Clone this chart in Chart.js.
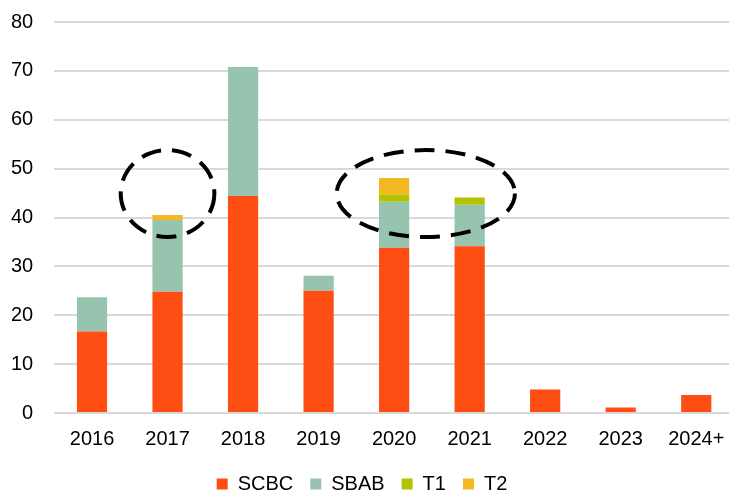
<!DOCTYPE html>
<html>
<head>
<meta charset="utf-8">
<script src="https://cdn.jsdelivr.net/npm/chart.js@4"></script>
<style>
  html, body { margin: 0; padding: 0; background: #fff; overflow: hidden; }
  body { width: 729px; height: 494px; position: relative; }
  #wrap { position: absolute; left: -4px; top: -11px; width: 738px; height: 506px; }
</style>
</head>
<body>
<div id="wrap"><canvas id="myChart"></canvas></div>
<script>
const years = ['2016', '2017', '2018', '2019', '2020', '2021', '2022', '2023', '2024+']
const scbc = [16.7, 24.8, 44.4, 25.0, 33.8, 34.1, 4.8, 1.1, 3.7]
const sbab = [7.0, 14.7, 26.4, 3.1, 9.4, 8.5, 0, 0, 0]
const t1 = [0, 0, 0, 0, 1.5, 1.5, 0, 0, 0]
const t2 = [0, 1.0, 0, 0, 3.4, 0, 0, 0, 0]
const yTicks = [0, 10, 20, 30, 40, 50, 60, 70, 80]

// dashed rings: centre (category index, value), radii (categories, value units)
const rings = [
	{ cx: 1, cy: 44.9, rx: 0.62, ry: 8.9 },
	{ cx: 4.42, cy: 44.9, rx: 1.18, ry: 8.9 },
]

const ringPlugin = {
	id: 'rings',
	afterDatasetsDraw(chart) {
		const { ctx, scales } = chart
		const xs = scales.x, ys = scales.y
		const step = xs.getPixelForValue(1) - xs.getPixelForValue(0)
		ctx.save()
		ctx.strokeStyle = '#000'
		ctx.lineWidth = 4
		ctx.setLineDash([20, 11])
		rings.forEach(r => {
			const x = xs.getPixelForValue(r.cx)
			const y = ys.getPixelForValue(r.cy)
			const w = r.rx * step
			const h = ys.getPixelForValue(r.cy - r.ry) - y
			ctx.beginPath()
			ctx.ellipse(x, y, w, h, 0, 0, Math.PI * 2)
			ctx.stroke()
		})
		ctx.restore()
	},
}

const font = { family: 'Liberation Sans, Arial', size: 20 }

const ctx = document.getElementById('myChart')
const mk = (label, data, color) => ({
	label: label,
	data: data,
	backgroundColor: color,
	barPercentage: 0.4,
	categoryPercentage: 1,
})

const myChart = new Chart(ctx, {
	type: 'bar',
	data: {
		labels: years,
		datasets: [
			mk('SCBC', scbc, '#FF4E14'),
			mk('SBAB', sbab, '#96C4AF'),
			mk('T1', t1, '#B4C300'),
			mk('T2', t2, '#F4B822'),
		],
	},
	options: {
		responsive: true,
		maintainAspectRatio: false,
		animation: false,
		layout: { padding: { top: -3, right: 0, left: -6, bottom: -9 } },
		plugins: {
			legend: {
				display: true,
				position: 'bottom',
				labels: {
					boxWidth: 11,
					boxHeight: 11,
					padding: 17,
					color: '#000',
					font: font,
				},
			},
			tooltip: { enabled: false },
		},
		scales: {
			x: {
				stacked: true,
				grid: { display: false },
				border: { display: false },
				ticks: {
					color: '#000',
					padding: 6,
					maxRotation: 0,
					font: font,
				},
			},
			y: {
				stacked: true,
				min: 0,
				max: 80,
				afterBuildTicks: axis => { axis.ticks = yTicks.map(v => ({ value: v })) },
				grid: { color: '#d9d9d9', lineWidth: 2, drawTicks: false },
				border: { display: false },
				ticks: {
					color: '#000',
					padding: 21,
					font: font,
				},
			},
		},
	},
	plugins: [ringPlugin],
})
</script>
</body>
</html>
